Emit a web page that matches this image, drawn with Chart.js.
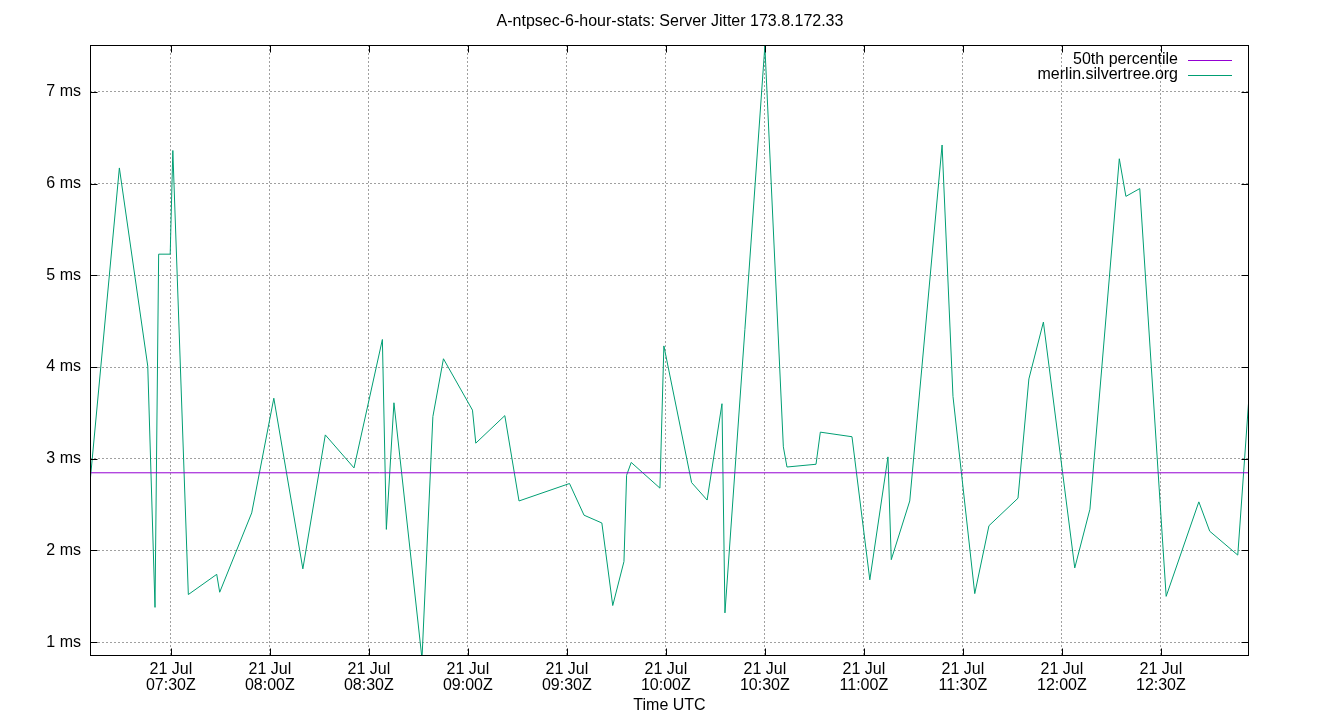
<!DOCTYPE html>
<html>
<head>
<meta charset="utf-8">
<title>Server Jitter</title>
<script src="https://cdn.jsdelivr.net/npm/chart.js@4.4.1/dist/chart.umd.min.js"></script>
<style>
  html, body { margin: 0; padding: 0; background: #fff; }
  #jitterChart { display: block; }
</style>
</head>
<body>
<canvas id="jitterChart" width="1340" height="720" style="width:1340px;height:720px"></canvas>
<script>
/* ==========================================================================
   DATA (21 Jul, UTC)
   ========================================================================== */
const sampleTimes = [
    '07:05:30', '07:14:24', '07:23:00', '07:25:12', '07:26:18', '07:29:48', '07:30:36', '07:35:18',
    '07:43:54', '07:44:48', '07:54:30', '08:01:12', '08:10:00', '08:16:48', '08:25:30', '08:34:06',
    '08:35:18', '08:37:36', '08:46:06', '08:49:24', '08:52:36', '09:01:24', '09:02:24', '09:11:12',
    '09:15:30', '09:30:48', '09:35:12', '09:40:36', '09:43:54', '09:47:18', '09:48:06', '09:49:30',
    '09:58:12', '09:59:24', '10:07:48', '10:12:30', '10:17:00', '10:17:54', '10:30:00', '10:35:36',
    '10:36:42', '10:45:30', '10:46:48', '10:56:24', '11:01:48', '11:07:18', '11:08:18', '11:13:54',
    '11:23:42', '11:27:00', '11:33:36', '11:37:54', '11:46:42', '11:50:00', '11:54:24', '12:03:54',
    '12:08:30', '12:17:24', '12:19:24', '12:23:36', '12:31:36', '12:41:30', '12:44:48', '12:53:18',
    '12:56:42'
];
const jitterMs = [
    2.74, 6.17, 4.01, 1.38, 5.23, 5.23, 6.36, 1.52,
    1.74, 1.545, 2.41, 3.66, 1.80, 3.26, 2.90, 4.30,
    2.23, 3.61, 0.82, 3.46, 4.09, 3.53, 3.17, 3.47,
    2.54, 2.73, 2.385, 2.30, 1.40, 1.88, 2.82, 2.96,
    2.68, 4.23, 2.74, 2.55, 3.60, 1.32, 7.50, 3.13,
    2.91, 2.94, 3.29, 3.24, 1.68, 3.02, 1.90, 2.54,
    6.42, 3.68, 1.53, 2.27, 2.57, 3.87, 4.49, 1.81,
    2.45, 6.27, 5.86, 5.945, 1.50, 2.53, 2.21, 1.95,
    3.68
];
const percentile50 = 2.847;
const xTickTimes = ['07:30', '08:00', '08:30', '09:00', '09:30', '10:00', '10:30', '11:00', '11:30', '12:00', '12:30'];
const yTickValues = [1, 2, 3, 4, 5, 6, 7];
const tickDay = '21 Jul';
const seriesNames = ['50th percentile', 'merlin.silvertree.org'];
const xRange = ['07:05:30', '12:56:42'];
const yRange = [0.85, 7.51];

// "HH:MM[:SS]" -> minutes since midnight UTC
function toMinutes(s) {
    const p = s.split(':').map(Number);
    return p[0] * 60 + p[1] + (p[2] || 0) / 60;
}
function minutesLabel(m) {
    const h = Math.floor(m / 60);
    const mm = Math.round(m - h * 60);
    return String(h).padStart(2, '0') + ':' + String(mm).padStart(2, '0') + 'Z';
}

const xMin = toMinutes(xRange[0]);
const xMax = toMinutes(xRange[1]);
const jitterPoints = sampleTimes.map((t, i) => ({ x: toMinutes(t), y: jitterMs[i] }));
const percentilePoints = [{ x: xMin, y: percentile50 }, { x: xMax, y: percentile50 }];

const FONT = { family: '"Liberation Sans", Arial, sans-serif', size: 16 };

/* ==========================================================================
   GNUPLOT LOOK: frame, inward tick marks, legend inside top right
   ========================================================================== */
const gnuplotFrame = {
    id: 'gnuplotFrame',
    afterDraw(chart) {
        const { ctx, chartArea: a, scales } = chart;
        const L = Math.round(a.left) + 0.5, R = Math.round(a.right) - 0.5;
        const T = Math.round(a.top) + 0.5, B = Math.round(a.bottom) - 0.5;
        ctx.save();
        ctx.strokeStyle = '#000';
        ctx.lineWidth = 1;
        ctx.setLineDash([]);
        ctx.strokeRect(L, T, R - L, B - T);

        ctx.beginPath();
        scales.x.ticks.forEach(t => {
            const px = Math.round(scales.x.getPixelForValue(t.value)) + 0.5;
            ctx.moveTo(px, B); ctx.lineTo(px, B - 7);
            ctx.moveTo(px, T); ctx.lineTo(px, T + 7);
        });
        scales.y.ticks.forEach(t => {
            const py = Math.round(scales.y.getPixelForValue(t.value)) + 0.5;
            ctx.moveTo(L, py); ctx.lineTo(L + 7, py);
            ctx.moveTo(R, py); ctx.lineTo(R - 7, py);
        });
        ctx.stroke();

        // legend
        ctx.font = FONT.size + 'px ' + FONT.family;
        ctx.textAlign = 'right';
        ctx.textBaseline = 'middle';
        chart.data.datasets.forEach((ds, i) => {
            const y = a.top + 15 + i * 15;
            ctx.fillStyle = '#000';
            ctx.fillText(ds.label, a.left + (1178 - 90), y);
            ctx.strokeStyle = ds.borderColor;
            ctx.beginPath();
            ctx.moveTo(a.left + (1188 - 90), Math.round(y) + 0.5);
            ctx.lineTo(a.left + (1232 - 90), Math.round(y) + 0.5);
            ctx.stroke();
        });
        ctx.restore();
    }
};

/* ==========================================================================
   CHART
   ========================================================================== */
new Chart(document.getElementById('jitterChart'), {
    type: 'line',
    data: {
        datasets: [
            {
                label: seriesNames[0],
                data: percentilePoints,
                borderColor: '#9400d3',
                borderWidth: 1,
                pointRadius: 0
            },
            {
                label: seriesNames[1],
                data: jitterPoints,
                borderColor: '#009e73',
                borderWidth: 1,
                pointRadius: 0,
                tension: 0
            }
        ]
    },
    options: {
        responsive: false,
        animation: false,
        layout: { padding: 0 },
        plugins: {
            legend: { display: false },
            tooltip: { enabled: false },
            title: {
                display: true,
                text: 'A-ntpsec-6-hour-stats: Server Jitter 173.8.172.33',
                color: '#000',
                font: { ...FONT, weight: 'normal' },
                padding: { top: 12, bottom: 13.8 }
            }
        },
        scales: {
            x: {
                type: 'linear',
                min: xMin,
                max: xMax,
                afterFit: s => { s.height = 64; },
                afterBuildTicks: s => { s.ticks = xTickTimes.map(t => ({ value: toMinutes(t) })); },
                ticks: {
                    color: '#000',
                    font: { ...FONT, lineHeight: 1.0 },
                    padding: 6,
                    maxRotation: 0,
                    autoSkip: false,
                    callback: v => [tickDay, minutesLabel(v)]
                },
                grid: { color: '#a0a0a0', drawTicks: false },
                border: { display: false, dash: [2, 2] },
                title: {
                    display: true,
                    text: 'Time UTC',
                    color: '#000',
                    font: FONT,
                    padding: { top: 0, bottom: 4.4 }
                }
            },
            y: {
                min: yRange[0],
                max: yRange[1],
                afterFit: s => { s.width = 90; },
                afterBuildTicks: s => { s.ticks = yTickValues.map(v => ({ value: v })); },
                ticks: {
                    color: '#000',
                    font: FONT,
                    padding: 9,
                    callback: v => v + ' ms'
                },
                grid: { color: '#a0a0a0', drawTicks: false },
                border: { display: false, dash: [2, 2] }
            },
            // empty right margin, so the title stays centred on the whole canvas
            yRight: {
                position: 'right',
                min: yRange[0],
                max: yRange[1],
                afterFit: s => { s.width = 91; },
                ticks: { display: false },
                grid: { display: false, drawTicks: false },
                border: { display: false }
            }
        }
    },
    plugins: [gnuplotFrame]
});
</script>
</body>
</html>
